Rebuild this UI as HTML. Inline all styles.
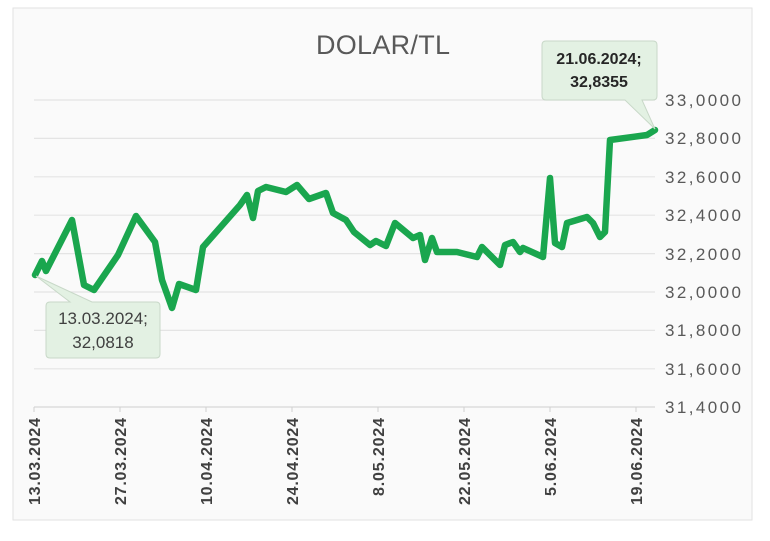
<!DOCTYPE html>
<html><head><meta charset="utf-8"><style>
html,body{margin:0;padding:0;background:#fff;}
body{width:770px;height:536px;overflow:hidden;font-family:"Liberation Sans",sans-serif;}
</style></head><body>
<svg width="770" height="536" xmlns="http://www.w3.org/2000/svg">
<rect x="13" y="8" width="739" height="512" fill="#fafafa" stroke="#e2e2e2" stroke-width="1"/>
<text x="383" y="54" text-anchor="middle" font-size="27" fill="#595959" textLength="134" font-family="Liberation Sans, sans-serif">DOLAR/TL</text>
<g stroke="#e4e4e4" stroke-width="1.2">
<line x1="34" x2="655" y1="100" y2="100"/><line x1="34" x2="655" y1="138.4" y2="138.4"/>
<line x1="34" x2="655" y1="176.8" y2="176.8"/><line x1="34" x2="655" y1="215.2" y2="215.2"/>
<line x1="34" x2="655" y1="253.6" y2="253.6"/><line x1="34" x2="655" y1="292" y2="292"/>
<line x1="34" x2="655" y1="330.4" y2="330.4"/><line x1="34" x2="655" y1="368.8" y2="368.8"/>
<line x1="34" x2="655" y1="407" y2="407" stroke="#d6d6d6"/>
</g>
<g stroke="#d0d0d0" stroke-width="1">
<line x1="34" x2="34" y1="407" y2="412"/><line x1="120" x2="120" y1="407" y2="412"/>
<line x1="206" x2="206" y1="407" y2="412"/><line x1="292" x2="292" y1="407" y2="412"/>
<line x1="378" x2="378" y1="407" y2="412"/><line x1="464" x2="464" y1="407" y2="412"/>
<line x1="550" x2="550" y1="407" y2="412"/><line x1="636" x2="636" y1="407" y2="412"/>
</g>
<g font-size="17" fill="#595959" font-family="Liberation Sans, sans-serif">
<text x="665" y="106" textLength="76">33,0000</text><text x="665" y="144" textLength="76">32,8000</text>
<text x="665" y="183" textLength="76">32,6000</text><text x="665" y="221" textLength="76">32,4000</text>
<text x="665" y="260" textLength="76">32,2000</text><text x="665" y="298" textLength="76">32,0000</text>
<text x="665" y="336" textLength="76">31,8000</text><text x="665" y="375" textLength="76">31,6000</text>
<text x="665" y="413" textLength="76">31,4000</text>
</g>
<g font-size="16" font-weight="bold" fill="#404040" font-family="Liberation Sans, sans-serif" text-anchor="end">
<text transform="translate(40,418) rotate(-90)" textLength="87">13.03.2024</text>
<text transform="translate(126,418) rotate(-90)" textLength="87">27.03.2024</text>
<text transform="translate(212,418) rotate(-90)" textLength="87">10.04.2024</text>
<text transform="translate(298,418) rotate(-90)" textLength="87">24.04.2024</text>
<text transform="translate(384,418) rotate(-90)" textLength="78">8.05.2024</text>
<text transform="translate(470,418) rotate(-90)" textLength="87">22.05.2024</text>
<text transform="translate(556,418) rotate(-90)" textLength="78">5.06.2024</text>
<text transform="translate(642,418) rotate(-90)" textLength="87">19.06.2024</text>
</g>
<polyline fill="none" stroke="#1aa64e" stroke-width="6.5" stroke-linejoin="round" stroke-linecap="round"
points="35,275 42,261 46,271 72,220 84,285 94,290 118,255 136,216 155,242 162,280 172,308 179,284 196,290 203,247 240,205 247,195 253,218 258,191 266,187 286,192 297,185 309,199 326,193 333,213 346,220 354,232 370,245 376,241 386,246 395,223 413,238 420,235 425,260 432,238 437,252 457,252 477,257 482,247 500,265 505,245 513,242 520,252 523,248 543,257 550,178 555,243 562,247 567,223 587,217 593,223 600,237 605,232 610,140 647,135 655,130"/>
<path d="M50,302 Q46,302 46,306 L46,354 Q46,358 50,358 L156,358 Q160,358 160,354 L160,306 Q160,302 156,302 L92,302 L36,276 L70,302 Z" fill="#e3f1e3" stroke="#c8d8c8" stroke-width="1"/>
<text x="103" y="324" text-anchor="middle" font-size="17" fill="#404040" font-family="Liberation Sans, sans-serif">13.03.2024;</text>
<text x="103" y="348" text-anchor="middle" font-size="17" fill="#404040" font-family="Liberation Sans, sans-serif">32,0818</text>
<path d="M546,41 Q542,41 542,45 L542,96 Q542,100 546,100 L625,100 L655,129 L642,100 L653,100 Q657,100 657,96 L657,45 Q657,41 653,41 Z" fill="#e3f1e3" stroke="#c8d8c8" stroke-width="1"/>
<text x="599" y="64" text-anchor="middle" font-size="16" font-weight="bold" fill="#262626" font-family="Liberation Sans, sans-serif">21.06.2024;</text>
<text x="599" y="87" text-anchor="middle" font-size="16" font-weight="bold" fill="#262626" font-family="Liberation Sans, sans-serif">32,8355</text>
</svg>
</body></html>
